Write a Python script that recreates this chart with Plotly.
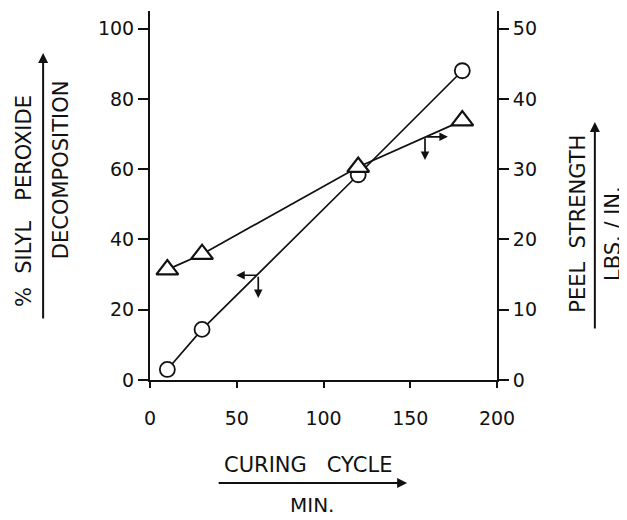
import plotly.graph_objects as go

# ---- data ----
cure_time_min = [10, 30, 120, 180]
peroxide_decomp_pct = [3.0, 14.4, 58.4, 88.0]
peel_strength_lbs_in = [15.7, 17.9, 30.3, 36.9]

x_ticks = [0, 50, 100, 150, 200]
left_ticks = [0, 20, 40, 60, 80, 100]
right_ticks = [0, 10, 20, 30, 40, 50]

# pointer arrows (which axis each curve belongs to)
circ_ptr = (62.4, 29.8)     # on decomposition curve, left axis
tri_ptr = (158.5, 34.6)     # on peel curve, right axis

FONT = "DejaVu Sans"
INK = "#111111"

fig = go.Figure()

fig.add_trace(go.Scatter(
    x=cure_time_min, y=peel_strength_lbs_in, yaxis="y2",
    mode="lines+markers",
    line=dict(color=INK, width=1.7),
    marker=dict(symbol="triangle-up", size=19, color="white",
                line=dict(color=INK, width=2.2)),
    showlegend=False, cliponaxis=False,
))
fig.add_trace(go.Scatter(
    x=cure_time_min, y=peroxide_decomp_pct, yaxis="y",
    mode="lines+markers",
    line=dict(color=INK, width=1.7),
    marker=dict(symbol="circle", size=15, color="white",
                line=dict(color=INK, width=1.8)),
    showlegend=False, cliponaxis=False,
))

ann = []
# pointer arrows on curves
ann.append(dict(x=circ_ptr[0] - 12.7, y=circ_ptr[1], xref="x", yref="y",
                ax=circ_ptr[0], ay=circ_ptr[1], axref="x", ayref="y",
                text="", showarrow=True, arrowhead=2, arrowsize=1, arrowwidth=1.7, arrowcolor=INK))
ann.append(dict(x=circ_ptr[0], y=circ_ptr[1] - 6.5, xref="x", yref="y",
                ax=circ_ptr[0], ay=circ_ptr[1], axref="x", ayref="y",
                text="", showarrow=True, arrowhead=2, arrowsize=1, arrowwidth=1.7, arrowcolor=INK))
ann.append(dict(x=tri_ptr[0] + 13.2, y=tri_ptr[1], xref="x", yref="y2",
                ax=tri_ptr[0], ay=tri_ptr[1], axref="x", ayref="y2",
                text="", showarrow=True, arrowhead=2, arrowsize=1, arrowwidth=1.7, arrowcolor=INK))
ann.append(dict(x=tri_ptr[0], y=tri_ptr[1] - 3.3, xref="x", yref="y2",
                ax=tri_ptr[0], ay=tri_ptr[1], axref="x", ayref="y2",
                text="", showarrow=True, arrowhead=2, arrowsize=1, arrowwidth=1.7, arrowcolor=INK))

# axis-title arrows
ann.append(dict(x=-0.308, y=0.886, xref="paper", yref="paper", ax=0, ay=267,
                text="", showarrow=True, arrowhead=2, arrowsize=1, arrowwidth=2, arrowcolor=INK))
ann.append(dict(x=1.282, y=0.699, xref="paper", yref="paper", ax=0, ay=208,
                text="", showarrow=True, arrowhead=2, arrowsize=1, arrowwidth=2, arrowcolor=INK))
ann.append(dict(x=0.741, y=-0.279, xref="paper", yref="paper", ax=-190, ay=0,
                text="", showarrow=True, arrowhead=2, arrowsize=1, arrowwidth=2, arrowcolor=INK))

tf = dict(family=FONT, size=21, color=INK)
def label(text, x, y, angle=0, size=21):
    ann.append(dict(text=text, x=x, y=y, xref="paper", yref="paper",
                    showarrow=False, textangle=angle,
                    font=dict(family=FONT, size=size, color=INK),
                    xanchor="center", yanchor="middle"))

NB = "\u00a0"
label(f"%{NB}{NB}SILYL{NB}{NB}{NB}PEROXIDE", -0.363, 0.485, -90)
label("DECOMPOSITION", -0.256, 0.569, -90)
label(f"PEEL{NB}{NB}STRENGTH", 1.233, 0.423, -90)
label(f"LBS.{NB}/{NB}IN.", 1.334, 0.398, -90)
label(f"CURING{NB}{NB}{NB}CYCLE", 0.455, -0.230)
label("MIN.", 0.467, -0.338, size=20)

tick_font = dict(family=FONT, size=19, color=INK)

# the page adds an 8 px body margin, so the figure is 8 px smaller and margins shifted
fig.update_layout(
    width=619, height=512,
    margin=dict(l=142, r=130, t=3, b=140),
    paper_bgcolor="white", plot_bgcolor="white",
    annotations=ann,
    xaxis=dict(range=[0, 200], tickvals=x_ticks, ticktext=[str(v) for v in x_ticks],
               showgrid=False, zeroline=False, showline=True, linecolor=INK, linewidth=2,
               ticks="outside", ticklen=6, tickwidth=2, tickcolor=INK,
               tickfont=tick_font, ticklabelstandoff=14),
    yaxis=dict(range=[0, 105], tickvals=left_ticks, ticktext=[str(v) for v in left_ticks],
               showgrid=False, zeroline=False, showline=True, linecolor=INK, linewidth=2,
               ticks="outside", ticklen=10, tickwidth=2, tickcolor=INK,
               tickfont=tick_font),
    yaxis2=dict(range=[0, 52.5], tickvals=right_ticks, ticktext=[str(v) for v in right_ticks],
                overlaying="y", side="right",
                showgrid=False, zeroline=False, showline=True, linecolor=INK, linewidth=2,
                ticks="outside", ticklen=10, tickwidth=2, tickcolor=INK,
                tickfont=tick_font),
)

fig.write_html("out.html")
